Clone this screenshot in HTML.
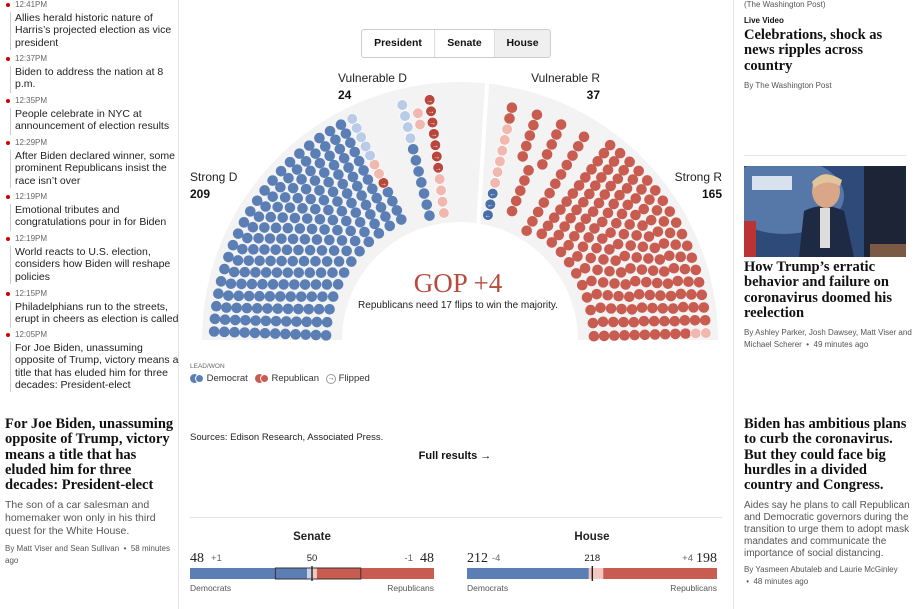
<!DOCTYPE html>
<html><head><meta charset="utf-8">
<style>
*{margin:0;padding:0;box-sizing:border-box}
body{width:917px;height:609px;overflow:hidden;background:#fff;font-family:"Liberation Sans",sans-serif;color:#111;position:relative}
.abs{position:absolute}
.ts{position:absolute;left:15px;font-size:8px;color:#666}
.dot{position:absolute;left:6px;width:4px;height:4px;border-radius:2px;background:#c00}
.vl{position:absolute;left:10px;width:1px;background:#ccc}
.it{position:absolute;left:15px;font-size:10.5px;line-height:12.3px;color:#222;width:165px}
.hl{font-family:"Liberation Serif",serif;font-weight:bold;font-size:14.5px;line-height:15.3px;color:#111}
.sm{font-size:10.5px;line-height:12.6px;color:#555}
.by{font-size:8px;line-height:12px;color:#555}
</style></head><body>
<div class="abs" style="left:178px;top:0;width:1px;height:609px;background:#e5e5e5"></div>
<div class="abs" style="left:733px;top:0;width:1px;height:609px;background:#e5e5e5"></div>

<div>
<div class="dot" style="top:3px"></div><div class="ts" style="top:0">12:41PM</div><div class="vl" style="top:12px;height:38px"></div>
<div class="it" style="top:12px">Allies herald historic nature of Harris’s projected election as vice president</div>
<div class="dot" style="top:57px"></div><div class="ts" style="top:54px">12:37PM</div><div class="vl" style="top:66px;height:27px"></div>
<div class="it" style="top:66px">Biden to address the nation at 8 p.m.</div>
<div class="dot" style="top:99px"></div><div class="ts" style="top:96px">12:35PM</div><div class="vl" style="top:108px;height:27px"></div>
<div class="it" style="top:108px">People celebrate in NYC at announcement of election results</div>
<div class="dot" style="top:141px"></div><div class="ts" style="top:138px">12:29PM</div><div class="vl" style="top:150px;height:38px"></div>
<div class="it" style="top:150px">After Biden declared winner, some prominent Republicans insist the race isn’t over</div>
<div class="dot" style="top:195px"></div><div class="ts" style="top:192px">12:19PM</div><div class="vl" style="top:204px;height:27px"></div>
<div class="it" style="top:204px">Emotional tributes and congratulations pour in for Biden</div>
<div class="dot" style="top:237px"></div><div class="ts" style="top:234px">12:19PM</div><div class="vl" style="top:246px;height:38px"></div>
<div class="it" style="top:246px">World reacts to U.S. election, considers how Biden will reshape policies</div>
<div class="dot" style="top:292px"></div><div class="ts" style="top:289px">12:15PM</div><div class="vl" style="top:301px;height:27px"></div>
<div class="it" style="top:301px">Philadelphians run to the streets, erupt in cheers as election is called</div>
<div class="dot" style="top:333px"></div><div class="ts" style="top:330px">12:05PM</div><div class="vl" style="top:342px;height:50px"></div>
<div class="it" style="top:342px">For Joe Biden, unassuming opposite of Trump, victory means a title that has eluded him for three decades: President-elect</div>
</div>

<div class="abs" style="left:5px;top:417px;width:170px">
<div class="hl">For Joe Biden, unassuming opposite of Trump, victory means a title that has eluded him for three decades: President-elect</div>
<div class="sm" style="margin-top:6px">The son of a car salesman and homemaker won only in his third quest for the White House.</div>
<div class="by" style="margin-top:6px">By Matt Viser and Sean Sullivan &nbsp;•&nbsp; 58 minutes ago</div>
</div>

<div class="abs" style="left:744px;top:0;width:168px">
<div class="by" style="line-height:10px">(The Washington Post)</div>
<div style="font-size:8px;font-weight:bold;margin-top:6px">Live Video</div>
<div class="hl" style="margin-top:3px">Celebrations, shock as news ripples across country</div>
<div class="by" style="margin-top:6px">By The Washington Post</div>
</div>
<div class="abs" style="left:744px;top:155px;width:162px;height:1px;background:#e5e5e5"></div>
<svg class="abs" style="left:744px;top:166px" width="162" height="91">
<rect width="162" height="91" fill="#2d4a78"/>
<ellipse cx="40" cy="30" rx="60" ry="38" fill="#5578a8"/>
<rect x="8" y="10" width="40" height="14" fill="#d8e2ee"/>
<rect x="120" y="0" width="42" height="91" fill="#1c2436"/>
<rect x="0" y="55" width="12" height="36" fill="#b33"/>
<path d="M55 91 L60 45 Q80 35 100 45 L110 91Z" fill="#1e2a44"/>
<ellipse cx="82" cy="25" rx="14" ry="17" fill="#d9a687"/>
<path d="M68 16 Q80 2 98 14 L96 20 Q82 12 70 22Z" fill="#e2c59a"/>
<rect x="76" y="42" width="10" height="40" fill="#ddd"/>
<rect x="126" y="78" width="36" height="13" fill="#7a5a44"/>
</svg>
<div class="abs" style="left:744px;top:260px;width:168px">
<div class="hl">How Trump’s erratic behavior and failure on coronavirus doomed his reelection</div>
<div class="by" style="margin-top:6px">By Ashley Parker, Josh Dawsey, Matt Viser and Michael Scherer &nbsp;•&nbsp; 49 minutes ago</div>
</div>
<div class="abs" style="left:744px;top:417px;width:168px">
<div class="hl">Biden has ambitious plans to curb the coronavirus. But they could face big hurdles in a divided country and Congress.</div>
<div class="sm" style="margin-top:7px;font-size:10px;line-height:12px">Aides say he plans to call Republican and Democratic governors during the transition to urge them to adopt mask mandates and communicate the importance of social distancing.</div>
<div class="by" style="margin-top:4px">By Yasmeen Abutaleb and Laurie McGinley<br>&nbsp;•&nbsp; 48 minutes ago</div>
</div>

<div class="abs" style="left:361px;top:29px;width:190px;height:29px;border:1px solid #ccc;border-radius:3px;display:flex;font-size:10.5px;font-weight:bold;overflow:hidden">
<div style="width:73px;line-height:27px;text-align:center;border-right:1px solid #ddd">President</div>
<div style="width:60px;line-height:27px;text-align:center;border-right:1px solid #ddd">Senate</div>
<div style="flex:1;line-height:27px;text-align:center;background:#efefef">House</div>
</div>

<svg id="hemi" class="abs" style="left:180px;top:60px" width="550" height="300"></svg>

<div class="abs" style="left:190px;top:363px;font-size:9.5px;color:#333">
<div style="font-size:6.5px;color:#666">LEAD/WON</div>
<div style="margin-top:3px;display:flex;align-items:center;gap:3px">
<span style="display:inline-flex;align-items:center"><span style="width:9px;height:9px;border-radius:5px;background:#5b7fb5;display:inline-block"></span><span style="width:9px;height:9px;border-radius:5px;background:#5b7fb5;border:1px solid #fff;margin-left:-4px;display:inline-block"></span>&nbsp;Democrat</span>
<span style="display:inline-flex;align-items:center;margin-left:4px"><span style="width:9px;height:9px;border-radius:5px;background:#c85c50;display:inline-block"></span><span style="width:9px;height:9px;border-radius:5px;background:#c85c50;border:1px solid #fff;margin-left:-4px;display:inline-block"></span>&nbsp;Republican</span>
<span style="display:inline-flex;align-items:center;margin-left:4px"><span style="width:10px;height:10px;border-radius:5px;border:1px solid #999;font-size:7px;line-height:8px;text-align:center;display:inline-block">→</span>&nbsp;Flipped</span>
</div></div>

<div class="abs" style="left:190px;top:432px;font-size:9.5px;color:#222">Sources: Edison Research, Associated Press.</div>
<div class="abs" style="left:360px;top:450px;width:190px;text-align:center;font-size:11px;font-weight:bold">Full results →</div>
<div class="abs" style="left:190px;top:517px;width:532px;height:1px;background:#e5e5e5"></div>

<svg id="bars" class="abs" style="left:180px;top:520px" width="550" height="89"></svg>

<script>
// ---- Hemicycle data ----
const groupNames = ["Strong D","Vulnerable D","Vulnerable R","Strong R"];
const groupCounts = [209, 24, 37, 165];
const vulnDStatus = ["D","D","D","D","D","D","D","LD","LD","LD","LD","LR","LR","LR","LR","LR","LR","FR","FR","FR","FR","FR","FR","FR"];
const vulnRStatus = ["R","R","R","R","R","R","R","R","R","R","R","R","R","R","R","R","R","R","R","R","R","R","R","R","R","R","R","R","LR","LR","LR","LR","LR","LR","FD","FD","FD"];
const strongDEdge = ["LD","LD","LD","LD","LD","LR","LR","FR"];
const strongREdge = ["LR","LR"];
const headline = "GOP +4";
const flipsNeeded = 17;

const NS="http://www.w3.org/2000/svg";
const svg=document.getElementById('hemi');
const cx=280, cy=280;
function mk(t,a,p){const e=document.createElementNS(NS,t);for(const k in a)e.setAttribute(k,a[k]);(p||svg).appendChild(e);return e;}
function polar(r,deg){const a=deg*Math.PI/180;return [cx+r*Math.cos(a), cy-r*Math.sin(a)];}
(function(){
  const ro=258, ri=118;
  const [x1,y1]=polar(ro,180),[x2,y2]=polar(ro,0),[x3,y3]=polar(ri,0),[x4,y4]=polar(ri,180);
  const p=mk('path',{d:`M${x1},${y1} A${ro},${ro} 0 0 1 ${x2},${y2} L${x3},${y3} A${ri},${ri} 0 0 0 ${x4},${y4}Z`,fill:'#f3f3f3'});
  
  
  const [a1,b1]=polar(ri-2,81),[a2,b2]=polar(ro+2,84);
  mk('line',{x1:a1,y1:b1,x2:a2,y2:b2,stroke:'#fff','stroke-width':4});
})();
const colors={D:'#5b7fb5',R:'#c85c50',LD:'#b9cbe6',LR:'#f1b8b0',FR:'#b8473d',FD:'#4a6fa8'};
const geom=[[180,114,134,246,12],[104,97,128,242,11],[78,58,128,238,11],[54,0,134,246,12]];
function layout(gi,count){
  const [a0,a1,ri,ro,rows]=geom[gi];
  const rs=[];let tot=0;
  for(let k=0;k<rows;k++){const r=ri+(ro-ri)*k/(rows-1);rs.push(r);tot+=r;}
  const per=rs.map(r=>Math.max(1,Math.round(count*r/tot)));
  let diff=count-per.reduce((s,v)=>s+v,0);let k=rows-1;
  while(diff!==0){per[k]+=diff>0?1:-1;diff+=diff>0?-1:1;k=(k-1+rows)%rows;}
  const seats=[];
  rs.forEach((r,i)=>{const n=per[i];for(let j=0;j<n;j++){const t=n===1?0.5:j/(n-1);const ang=a0+(a1-a0)*(0.03+0.94*t);seats.push({r,ang});}});
  seats.sort((p,q)=>Math.abs(p.ang-a0)-Math.abs(q.ang-a0));
  return seats;
}
const defaults=['D','D','R','R'];
groupCounts.forEach((c,gi)=>{
  const seats=layout(gi,c);
  let status=seats.map(()=>defaults[gi]);
  if(gi===1) status=vulnDStatus.slice(0,c).concat(Array(Math.max(0,c-vulnDStatus.length)).fill('D'));
  if(gi===2){status=seats.map((s,i)=>vulnRStatus[c-1-i]||'R');}
  if(gi===0){strongDEdge.forEach((s,i)=>{if(c-1-i>=0)status[c-1-i]=s;});}
  if(gi===3){strongREdge.forEach((s,i)=>{if(c-1-i>=0)status[c-1-i]=s;});}
  seats.forEach((s,i)=>{
    const [x,y]=polar(s.r,s.ang);const st=status[i];
    const e=mk('circle',{cx:x,cy:y,r:5.3,fill:colors[st],stroke:st.length>1?'#fff':'none','stroke-width':0.6});
    
    
    if(st[0]==='F'){const t=mk('text',{x:x,y:y+2.5,'font-size':7,'text-anchor':'middle',fill:'#fff','font-family':'Liberation Sans'});t.textContent=st==='FR'?'→':'←';}
  });
});
function label(x,y,txt,num,anchor){
  const g=mk('g',{});
  
  
  const t=mk('text',{x:x,y:y,'font-size':12,'text-anchor':anchor,fill:'#222','font-family':'Liberation Sans'},g);t.textContent=txt;
  const n=mk('text',{x:x,y:y+17,'font-size':12,'font-weight':'bold','text-anchor':anchor,fill:'#111','font-family':'Liberation Sans'},g);n.textContent=num;
}
label(10,121,"Strong D",groupCounts[0],'start');
label(158,22,"Vulnerable D",groupCounts[1],'start');
label(420,22,"Vulnerable R",groupCounts[2],'end');
label(542,121,"Strong R",groupCounts[3],'end');
const h=mk('text',{x:278,y:232,'font-size':27,'text-anchor':'middle',fill:'#b84a3f','font-family':'Liberation Serif'});h.textContent=headline;


const sub=mk('text',{x:278,y:248,'font-size':10,'text-anchor':'middle',fill:'#222','font-family':'Liberation Sans'});sub.textContent=`Republicans need ${flipsNeeded} flips to win the majority.`;

// ---- Balance bars data ----
const chambers=["Senate","House"];
const demSeats=[48,212];
const repSeats=[48,198];
const demChange=["+1","-4"];
const repChange=["-1","+4"];
const leanDem=[2,0];
const leanRep=[2,25];
const totals=[100,435];
const majority=[50,218];
const bs=document.getElementById('bars');
const panels=[[10,254],[287,537]];
chambers.forEach((c,i)=>{
  const [x0,x1]=panels[i];const w=x1-x0;const sc=v=>x0+w*v/totals[i];
  const g=document.createElementNS(NS,'g');bs.appendChild(g);
  
  
  const T=(x,y,s,txt,o)=>{const t=mk('text',Object.assign({x:x,y:y,'font-size':s,fill:'#222','font-family':'Liberation Sans'},o||{}),g);t.textContent=txt;return t;};
  T((x0+x1)/2,20,11.5,c,{'text-anchor':'middle','font-weight':'bold'});
  T(x0,42,14,demSeats[i],{'font-family':'Liberation Serif'});
  T(x0+(i?25:21),41,9.5,demChange[i],{fill:'#666'});
  T(x1,42,14,repSeats[i],{'font-family':'Liberation Serif','text-anchor':'end'});
  T(x1-(i?24:21),41,9.5,repChange[i],{fill:'#666','text-anchor':'end'});
  T(sc(majority[i]),41,9.5,majority[i],{'text-anchor':'middle'});
  const y=48,hh=11;
  const d1=sc(demSeats[i]),l1=sc(demSeats[i]+leanDem[i]),l2=sc(demSeats[i]+leanDem[i]+leanRep[i]);
  mk('rect',{x:x0,y:y,width:d1-x0,height:hh,fill:'#5b7fb5'},g);
  mk('rect',{x:d1,y:y,width:l1-d1,height:hh,fill:'#c6d4ea'},g);
  mk('rect',{x:l1,y:y,width:l2-l1,height:hh,fill:'#f3c6bf'},g);
  mk('rect',{x:l2,y:y,width:x1-l2,height:hh,fill:'#c85c50'},g);
  mk('line',{x1:sc(majority[i]),x2:sc(majority[i]),y1:y-2,y2:y+hh+2,stroke:'#111','stroke-width':1.3},g);
  if(i===0) mk('rect',{x:sc(35),y:y,width:sc(70)-sc(35),height:hh,fill:'none',stroke:'#333','stroke-width':1},g);
  T(x0,71,8.5,"Democrats",{fill:'#555'});
  T(x1,71,8.5,"Republicans",{fill:'#555','text-anchor':'end'});
});
</script>
</body></html>
